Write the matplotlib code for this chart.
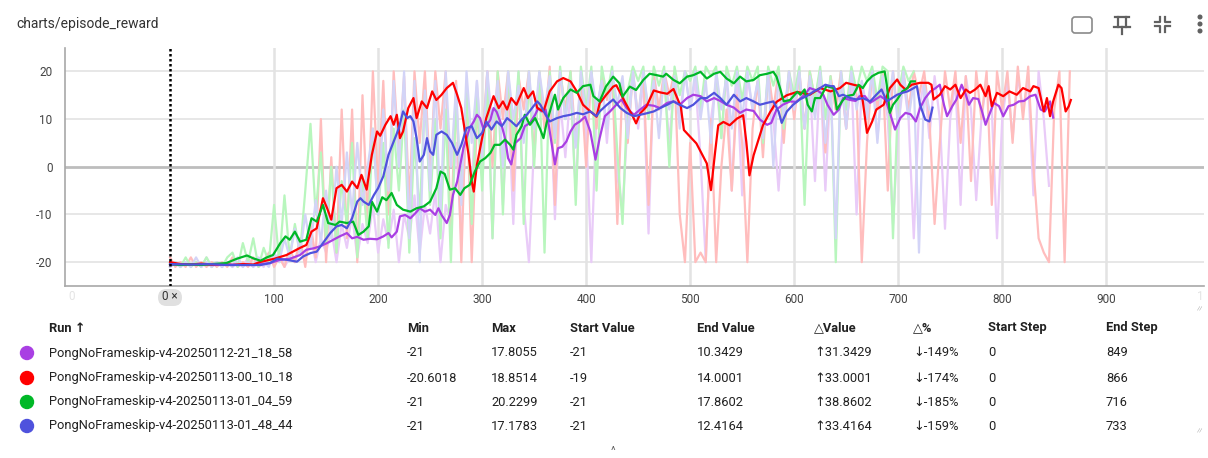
import numpy as np
import matplotlib
matplotlib.use('Agg')
import matplotlib.pyplot as plt
from matplotlib.patches import Circle, FancyBboxPatch
from matplotlib.lines import Line2D

plt.rcParams['font.family'] = ['Roboto', 'DejaVu Sans']

# ── data ──────────────────────────────────────────────────────────────────────
run_names = ['PongNoFrameskip-v4-20250112-21_18_58',
             'PongNoFrameskip-v4-20250113-00_10_18',
             'PongNoFrameskip-v4-20250113-01_04_59',
             'PongNoFrameskip-v4-20250113-01_48_44']
run_colors = ['#a93fe3', '#ff0000', '#00b827', '#4f52dd']
raw_colors = ['#e9cbf8', '#ffbdbd', '#b8f6bd', '#d3d4f7']

col_min = ['-21', '-20.6018', '-21', '-21']
col_max = ['17.8055', '18.8514', '20.2299', '17.1783']
col_start = ['-21', '-19', '-21', '-21']
col_end = ['10.3429', '14.0001', '17.8602', '12.4164']
col_dvalue = ['↑31.3429', '↑33.0001', '↑38.8602', '↑33.4164']
col_dpct = ['↓-149%', '↓-174%', '↓-185%', '↓-159%']
col_start_step = ['0', '0', '0', '0']
col_end_step = ['849', '866', '716', '733']

# raw episode rewards, sampled every 5 steps
purple_raw = [-21, -20, -21, -20, -21, -20, -21, -19, -21, -20,
              -21, -20, -21, -20, -21, -19, -21, -20, -21, -19,
              -20, -18, -21, -19, -20, -17, -19, -14, -20, -15,
              -18, -13, -20, -12, -17, -10, -19, -12, -16, -8,
              -18, -11, -16, -9, -20, -10, -15, -6, -18, -8,
              -14, -5, -20, -8, -12, 5, -15, 12, -5, 18,
              0, 20, -15, 18, -8, 15, -12, 20, -8, -20,
              5, 18, 10, 18, -11, 14, 2, 16, -5, 18,
              8, -20, 12, 18, 5, 20, -2, -9, 10, 20,
              8, 18, -14, 20, 12, 18, 5, 19, 10, 20,
              12, 18, 2, -20, 10, 18, 6, 20, -5, 18,
              -6, 19, 12, 18, 5, 19, 10, -5, 12, 18,
              12, 19, 8, 18, -3, 20, -5, 18, 12, 18,
              8, 19, -10, 18, 12, 20, 6, 18, 10, -12,
              8, 18, 10, -15, 12, 18, 6, 19, 10, -13,
              10, 18, -8, 19, 12, -7, 10, 18, 12, -15,
              10, 18, 6, 19, 12, 18, -6, 20, 10, -4]
red_raw = [-19, -21, -20, -21, -19, -21, -20, -21, -20, -21,
           -20, -21, -19, -21, -20, -21, -19, -21, -20, -18,
           -21, -19, -21, -17, -20, -15, -21, -12, -19, 10,
           -20, 2, -18, 12, -15, 12, -20, 15, -12, 20,
           -5, 18, -10, 20, 2, 19, -8, 20, 5, 20,
           -3, 20, 8, 20, -15, 18, -20, 16, -20, 10,
           5, 20, 0, 20, 10, 20, -5, 19, 12, 20,
           2, 20, 8, 21, -8, 20, 12, 20, 5, 18,
           0, 20, 8, 19, 14, 20, -12, 18, 5, 20,
           10, 20, -8, 19, 12, 20, 15, 20, -10, -20,
           5, -20, -18, -20, 10, -20, 0, 12, -5, 15,
           5, -20, 8, 18, 2, 20, 12, 20, 5, 20,
           10, 20, 8, 20, 14, 20, 3, 19, 12, 20,
           8, 20, 15, -20, 5, 20, 12, 20, -5, 20,
           10, 20, 12, 20, 15, 20, 10, -12, 5, 20,
           12, 20, 5, 19, -3, 20, 10, 20, -8, 20,
           12, 20, 5, 21, 10, 21, 0, -15, -18, -20,
           12, 20, -20, 20]
green_raw = [-21, -20, -21, -19, -21, -20, -21, -19, -21, -20,
             -21, -19, -18, -21, -16, -20, -15, -21, -17, -20,
             -8, -20, -6, -19, -12, -18, -5, 9, -10, 3,
             -16, 0, -18, -3, -12, 5, -19, -2, -15, 8,
             -10, 5, -17, 8, -5, 12, -18, 6, -10, 15,
             -8, 10, -15, 12, -20, 14, -5, 16, -12, 15,
             -5, 18, -15, 20, -10, 20, 5, 20, -12, 20,
             0, 20, -18, 20, 5, 21, 10, 20, -8, 21,
             12, 21, -5, 21, 15, 21, 3, -12, 16, 21,
             18, 21, 10, 21, 17, 21, 0, 21, 15, 20,
             18, 21, 12, 21, 19, 21, 6, 21, 17, 21,
             14, 21, 18, 21, 5, 21, 17, 21, 8, 20,
             15, 21, -8, 20, 14, 21, 10, 19, -20, 20,
             12, 21, 16, 21, 18, 21, 14, 21, 20, -15,
             15, 21, 18, 20]
blue_raw = [-21, -20, -21, -20, -21, -19, -21, -20, -21, -20,
            -21, -20, -21, -19, -21, -20, -21, -19, -20, -21,
            -18, -20, -15, -19, -13, -18, -10, -17, -7, -16,
            -5, -15, 0, -12, 3, -10, 5, -8, 0, 8,
            -10, 12, -5, 18, 0, 20, -15, 18, -20, 16,
            -5, 18, -10, 20, 0, 17, -8, 20, 5, 18,
            2, 20, 8, 18, 0, 20, 10, 17, 5, 20,
            8, 20, 12, 19, 6, 20, 10, 18, 4, 20,
            10, 20, 12, 18, 8, 20, 13, 19, 6, 20,
            10, 20, 12, 18, 6, 20, 12, 19, 8, 20,
            12, 20, 10, 18, 5, 20, 12, 19, 8, 20,
            10, 20, 12, 18, 6, 20, 0, 19, 10, 20,
            12, 20, 8, 19, 10, 20, 5, 18, -15, 20,
            8, 20, 12, 18, 10, 20, 5, 19, 12, 20,
            8, 20, 10, 18, -18, 17, 12]

# smoothed curves (step, value)
purple_steps = [0, 20, 40, 60, 80, 96, 106, 115, 125, 131, 138, 144, 151, 157, 163, 170,
                175, 180, 186, 192, 199, 205, 210, 213, 218, 221, 226, 231, 236, 240, 245,
                250, 255, 258, 261, 266, 269, 272, 276, 279, 282, 285, 288, 292, 295, 298,
                301, 304, 308, 311, 314, 319, 322, 325, 328, 332, 337, 341, 346, 351, 354,
                357, 361, 364, 367, 370, 373, 377, 381, 385, 389, 394, 399, 404, 409, 413,
                418, 423, 429, 434, 439, 446, 452, 458, 465, 471, 478, 484, 490, 497, 503,
                510, 516, 523, 529, 535, 542, 548, 554, 561, 567, 574, 578, 583, 589, 596,
                602, 610, 615, 619, 623, 628, 632, 638, 643, 647, 654, 659, 663, 668, 673,
                678, 683, 688, 692, 697, 702, 707, 712, 717, 721, 726, 731, 736, 740, 744,
                747, 752, 756, 761, 765, 768, 772, 777, 781, 784, 787, 792, 797, 801, 806,
                811, 816, 821, 827, 832, 837, 841, 846, 849]
purple_vals = [-20.6, -20.4, -20.6, -20.5, -20.6, -20.2, -19.5, -19.3, -18.5, -17.4, -17.1,
               -16.7, -16.0, -15.3, -14.6, -13.9, -15.0, -14.7, -15.3, -15.1, -15.2, -14.6,
               -13.9, -14.8, -13.6, -10.4, -10.1, -10.8, -9.7, -8.7, -9.4, -9.0, -10.1, -8.7,
               -10.1, -11.8, -10.1, -5.9, -3.1, 0.4, 3.9, 6.0, 8.1, 9.5, 10.9, 10.2, 8.1, 8.5,
               9.9, 12.3, 11.5, 8.5, 6.0, 1.8, 0.5, 5.0, 6.0, 8.5, 9.2, 10.9, 12.3, 11.6, 12.0,
               8.8, 4.6, 0.5, 3.9, 4.2, 5.3, 7.4, 8.8, 9.5, 10.5, 7.4, 1.5, 6.0, 10.6, 11.6,
               13.0, 14.1, 12.3, 10.9, 12.0, 13.0, 12.8, 12.3, 13.4, 13.7, 13.0, 14.4, 15.1,
               14.8, 13.7, 14.4, 13.8, 13.0, 12.4, 11.3, 12.0, 11.7, 9.9, 8.8, 9.2, 12.0, 13.0,
               13.7, 13.6, 15.1, 16.5, 16.2, 15.9, 15.1, 13.0, 10.9, 12.0, 14.4, 14.0, 13.8,
               14.8, 14.8, 13.4, 14.1, 14.8, 14.0, 11.3, 7.8, 10.2, 11.3, 11.0, 9.5, 12.3, 14.4,
               15.8, 16.5, 17.2, 13.0, 10.6, 12.7, 14.1, 17.2, 15.1, 13.0, 14.4, 14.2, 11.3,
               8.8, 10.6, 13.4, 12.7, 10.6, 12.7, 13.0, 13.7, 13.8, 14.8, 15.1, 12.0, 11.6,
               13.7, 10.3]

red_steps = [0, 10, 20, 30, 40, 50, 60, 70, 80, 86, 100, 112, 125, 131, 136, 141, 147, 151,
             155, 160, 165, 170, 175, 180, 184, 189, 194, 199, 202, 207, 212, 215, 218, 221,
             224, 229, 234, 237, 242, 247, 252, 256, 261, 266, 272, 276, 280, 283, 287, 290,
             292, 295, 300, 304, 311, 316, 320, 324, 328, 333, 340, 344, 349, 353, 359, 365,
             372, 378, 385, 391, 397, 404, 410, 413, 419, 426, 429, 434, 438, 445, 448, 452,
             458, 465, 471, 478, 484, 491, 494, 500, 506, 511, 516, 520, 524, 527, 532, 538,
             545, 551, 554, 557, 561, 566, 570, 577, 583, 593, 603, 615, 625, 635, 644, 650,
             657, 663, 666, 670, 675, 679, 686, 692, 699, 702, 707, 713, 721, 729, 732, 734,
             740, 745, 750, 755, 760, 765, 769, 774, 779, 784, 787, 790, 795, 801, 807, 814,
             820, 827, 830, 835, 840, 843, 846, 849, 854, 857, 861, 864, 866]
red_vals = [-20.0, -20.4, -20.5, -20.3, -20.5, -20.4, -20.6, -20.4, -20.5, -20.0, -19.3,
            -18.5, -17.0, -16.4, -13.6, -12.9, -6.6, -8.7, -11.1, -4.5, -3.8, -5.2, -3.1,
            -4.5, -1.7, -4.8, 2.5, 7.4, 6.5, 8.8, 10.6, 8.8, 10.9, 6.0, 7.4, 12.3, 14.4, 10.2,
            13.7, 12.3, 15.8, 14.0, 15.1, 16.5, 17.6, 15.1, 12.3, 8.1, 2.5, -3.1, -5.2, 0.4,
            6.0, 10.2, 14.8, 12.3, 13.7, 12.0, 14.4, 13.0, 16.5, 14.4, 15.8, 12.3, 11.6, 15.8,
            17.9, 18.6, 17.9, 15.8, 13.0, 11.6, 10.5, 13.3, 15.0, 16.8, 17.1, 15.0, 13.3, 10.5,
            9.1, 11.2, 12.6, 16.0, 15.6, 15.3, 16.3, 12.6, 7.7, 6.3, 4.9, 2.8, 0.7, -4.9, 3.1,
            8.7, 9.4, 8.7, 10.1, 10.8, 5.2, -1.8, 2.4, 5.9, 8.7, 11.5, 13.6, 15.0, 15.7, 15.1,
            16.5, 15.8, 16.5, 17.6, 17.2, 16.9, 13.7, 7.1, 9.5, 12.0, 13.0, 16.5, 18.3, 17.2,
            16.2, 17.2, 17.6, 17.6, 17.2, 14.1, 15.1, 16.9, 16.2, 17.2, 14.4, 16.2, 15.5, 16.2,
            17.2, 14.8, 16.9, 12.7, 15.5, 14.8, 15.8, 15.1, 16.5, 15.8, 16.9, 16.5, 11.6, 14.4,
            10.6, 13.7, 17.2, 16.5, 11.6, 12.7, 14.0]

green_steps = [0, 10, 20, 30, 40, 54, 64, 74, 80, 87, 93, 99, 106, 111, 115, 120, 125, 131,
               136, 141, 147, 152, 159, 163, 170, 176, 181, 186, 191, 194, 199, 204, 208, 213,
               218, 224, 231, 237, 244, 250, 256, 260, 264, 269, 274, 279, 283, 288, 293, 298,
               303, 308, 312, 317, 322, 327, 330, 333, 338, 341, 346, 351, 356, 359, 362, 367,
               370, 373, 378, 385, 391, 397, 404, 407, 413, 419, 426, 432, 435, 442, 448, 455,
               461, 468, 474, 477, 484, 490, 497, 503, 510, 516, 523, 529, 535, 542, 548, 554,
               561, 567, 574, 580, 583, 586, 590, 596, 603, 606, 610, 613, 617, 620, 625, 631,
               638, 641, 646, 650, 657, 662, 666, 670, 675, 681, 687, 689, 692, 695, 699, 704,
               709, 712, 716]
green_vals = [-20.4, -20.6, -20.5, -20.6, -20.4, -20.2, -19.3, -18.6, -19.2, -19.7, -19.0,
              -18.5, -16.0, -14.6, -15.3, -13.6, -15.7, -15.3, -10.8, -11.5, -8.0, -11.8,
              -12.2, -11.5, -11.8, -11.5, -14.3, -13.6, -12.5, -7.3, -9.4, -6.4, -7.0, -5.5,
              -8.0, -9.0, -9.4, -8.7, -8.3, -7.3, -4.5, -1.0, -1.5, -4.8, -4.5, -5.9, -4.5,
              -3.8, -1.0, 1.1, 1.8, 2.9, 4.6, 4.6, 5.7, 4.6, 3.6, 6.7, 8.5, 10.9, 8.8, 10.2,
              7.8, 6.0, 9.2, 13.0, 15.1, 12.0, 14.4, 16.2, 15.5, 16.9, 17.2, 14.8, 13.7, 16.8,
              18.9, 17.5, 14.7, 16.8, 16.1, 18.2, 19.5, 19.2, 18.9, 19.5, 18.2, 17.5, 18.9,
              19.2, 19.9, 18.5, 19.5, 19.9, 18.5, 17.5, 18.9, 17.9, 18.2, 19.2, 19.5, 19.9,
              18.9, 16.8, 13.7, 14.0, 15.7, 15.1, 16.2, 13.0, 11.6, 14.4, 14.4, 16.9, 16.5,
              12.0, 13.7, 14.8, 15.1, 17.2, 16.5, 17.9, 19.0, 19.7, 20.0, 17.2, 11.3, 13.0,
              14.1, 15.8, 16.5, 17.9, 17.9]

blue_steps = [0, 20, 38, 55, 71, 87, 96, 103, 112, 122, 128, 135, 141, 147, 154, 160, 165,
              170, 175, 180, 183, 186, 191, 196, 200, 205, 210, 215, 220, 224, 228, 231, 234,
              237, 240, 244, 247, 250, 253, 256, 261, 266, 271, 276, 280, 285, 290, 295, 300,
              304, 309, 314, 319, 324, 328, 333, 338, 343, 348, 353, 356, 361, 365, 372, 378,
              385, 391, 397, 404, 410, 413, 420, 426, 433, 439, 446, 452, 458, 465, 471, 478,
              484, 490, 497, 503, 510, 516, 523, 529, 535, 542, 548, 554, 561, 567, 574, 580,
              585, 588, 593, 599, 606, 612, 619, 625, 630, 635, 638, 643, 647, 654, 660, 666,
              673, 679, 684, 689, 694, 699, 704, 709, 715, 718, 721, 726, 730, 733]
blue_vals = [-20.4, -20.5, -20.4, -20.6, -20.6, -20.6, -20.2, -19.3, -19.5, -19.9, -18.8,
             -18.1, -17.8, -16.0, -13.9, -12.5, -12.2, -12.9, -10.8, -7.3, -6.6, -7.3, -8.0,
             -5.9, -4.5, -2.0, 2.5, 5.3, 8.1, 11.6, 10.2, 10.6, 9.5, 6.0, 1.1, 2.5, 6.0, 3.2,
             2.5, 6.7, 7.4, 6.7, 5.0, 2.5, 4.6, 8.1, 8.5, 6.0, 7.1, 9.5, 7.8, 9.5, 8.5, 10.2,
             9.5, 8.5, 9.9, 10.9, 12.3, 13.7, 13.0, 10.9, 9.5, 10.2, 10.6, 10.9, 11.3, 11.0,
             11.6, 10.6, 11.6, 13.0, 14.1, 12.3, 11.3, 10.6, 10.9, 11.2, 11.6, 12.3, 13.0,
             13.7, 13.0, 12.3, 13.0, 14.4, 14.4, 15.5, 14.4, 13.0, 15.1, 13.7, 14.4, 13.7,
             13.0, 13.4, 13.7, 11.6, 9.2, 11.6, 13.0, 14.2, 14.8, 15.8, 16.5, 17.2, 16.9,
             16.9, 14.8, 15.1, 14.4, 14.1, 14.4, 13.7, 15.1, 16.2, 13.7, 14.4, 15.1, 15.5,
             15.8, 16.5, 16.9, 13.0, 9.9, 9.5, 12.4]

raw_series = [purple_raw, red_raw, green_raw, blue_raw]
smooth_series = [(purple_steps, purple_vals), (red_steps, red_vals),
                 (green_steps, green_vals), (blue_steps, blue_vals)]

y_ticks = [-20, -10, 0, 10, 20]
x_ticks = [100, 200, 300, 400, 500, 600, 700, 800, 900]

# ── figure ────────────────────────────────────────────────────────────────────
W, H = 1208, 458
fig = plt.figure(figsize=(W / 100, H / 100), dpi=100, facecolor='white')
T = fig.dpi_scale_trans


def P(x, y):
    """pixel (from top-left) -> inches for dpi_scale_trans"""
    return x / 100, (H - y) / 100


def ptext(x, y, s, **kw):
    fig.text(*P(x, y), s, transform=T, **kw)


ax_l, ax_r, ax_t, ax_b = 65, 1204, 48, 286
ax = fig.add_axes([ax_l / W, 1 - ax_b / H, (ax_r - ax_l) / W, (ax_b - ax_t) / H])
ax.set_xlim(-101, 994)
ax.set_ylim(-25, 24.9)

for v in y_ticks:
    ax.axhline(v, color='#bdbdbd' if v == 0 else '#e3e3e3',
               lw=2.0 if v == 0 else 1.2, zorder=0)
for v in x_ticks:
    ax.axvline(v, color='#e3e3e3', lw=1.8, zorder=0)

# raw curves (pale, opaque)
for vals, c in zip(raw_series, raw_colors):
    st = np.arange(len(vals)) * 5
    ax.plot(st, vals, color=c, lw=1.6, zorder=1)

# smoothed curves
for (st, vals), c in zip(smooth_series, run_colors):
    ax.plot(st, vals, color=c, lw=1.6, zorder=3)

ax.axvline(0, color='black', lw=1.8, linestyle=(0, (1.0, 1.0)), zorder=4)

for side in ['top', 'right']:
    ax.spines[side].set_visible(False)
for side in ['left', 'bottom']:
    ax.spines[side].set_color('#a8a8a8')
    ax.spines[side].set_linewidth(1.2)

ax.set_yticks(y_ticks)
ax.set_yticklabels([str(v) for v in y_ticks])
ax.set_xticks(x_ticks)
ax.set_xticklabels([str(v) for v in x_ticks])
ax.tick_params(axis='both', length=0, labelsize=8.5, labelcolor='#444444')
ax.tick_params(axis='y', pad=9)
ax.tick_params(axis='x', pad=5)

# clipped / faded edge labels
ptext(72, 297, '0', fontsize=8.5, color='#e4e4e4', ha='center', va='center')
ptext(1200, 297, '1', fontsize=8.5, color='#e4e4e4', ha='center', va='center')

# step marker pill
fig.add_artist(FancyBboxPatch(P(158, 306), 24 / 100, 17 / 100, transform=T,
                              boxstyle='round,pad=0,rounding_size=0.085',
                              fc='#e0e0e0', ec='none'))
ptext(170, 297, '0 ×', fontsize=8.5, color='#333333', ha='center', va='center')

# title
ptext(16, 24, 'charts/episode_reward', fontsize=10, color='#333333', va='center')

# toolbar icons
ic = '#616161'
fig.add_artist(FancyBboxPatch(P(1072, 33), 20 / 100, 16 / 100, transform=T,
                              boxstyle='round,pad=0,rounding_size=0.03',
                              fc='none', ec='#8a8a8a', lw=1.2))
for a, b in [((1115, 17), (1129, 17)), ((1118, 17), (1118, 27)), ((1126, 17), (1126, 27)),
             ((1114, 27), (1130, 27)), ((1122, 27), (1122, 34))]:
    fig.add_artist(Line2D(*zip(P(*a), P(*b)), transform=T, color=ic, lw=1.6))
for sx, sy in [(-1, -1), (1, -1), (-1, 1), (1, 1)]:
    cx, cy = 1162 + sx * 2.5, 24 + sy * 2.5
    fig.add_artist(Line2D(*zip(P(cx, cy + sy * 5), P(cx, cy), P(cx + sx * 5, cy)),
                          transform=T, color=ic, lw=1.6))
for yy in [17, 24, 31]:
    fig.add_artist(Circle(P(1200, yy), 0.018, transform=T, color=ic))

# ── run table ─────────────────────────────────────────────────────────────────
hdr_y = 328
headers = [(49, 'Run ↑'), (407, 'Min'), (491, 'Max'), (570, 'Start Value'),
           (697, 'End Value'), (814, '△Value'), (913, '△%'), (988, 'Start Step'),
           (1106, 'End Step')]
for x, s in headers:
    ptext(x, hdr_y, s, fontsize=9.3, fontweight='bold', color='#212121', va='center')

row_y = [353, 378, 402, 426]
columns = [(407, col_min), (491, col_max), (570, col_start), (697, col_end),
           (814, col_dvalue), (913, col_dpct), (988, col_start_step), (1106, col_end_step)]
for i, y in enumerate(row_y):
    fig.add_artist(Circle(P(27, y), 0.065, transform=T, color=run_colors[i]))
    ptext(49, y, run_names[i], fontsize=9.3, color='#212121', va='center')
    for x, col in columns:
        ptext(x, y, col[i], fontsize=9.3, color='#212121', va='center')

# resize handles / expand chevron
ptext(1200, 310, '⁄⁄', fontsize=5, color='#9e9e9e', ha='center', va='center')
ptext(1200, 432, '⁄⁄', fontsize=5, color='#9e9e9e', ha='center', va='center')
ptext(613, 451, '^', fontsize=8, color='#616161', ha='center', va='center')

fig.savefig('out.png', dpi=100, facecolor='white')
